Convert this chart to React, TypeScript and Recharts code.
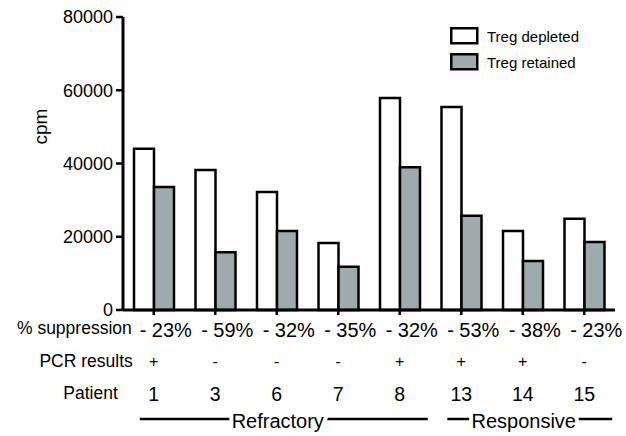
import { BarChart, Bar, XAxis, YAxis, Legend } from "recharts";

const patients = ["1", "3", "6", "7", "8", "13", "14", "15"];
const tregDepleted = [44000, 38200, 32200, 18300, 57900, 55400, 21600, 24900];
const tregRetained = [33600, 15800, 21600, 11800, 39000, 25700, 13400, 18600];
const suppression = ["- 23%", "- 59%", "- 32%", "- 35%", "- 32%", "- 53%", "- 38%", "- 23%"];
const pcrResults = ["+", "-", "-", "-", "+", "+", "+", "-"];
const yTicks = [0, 20000, 40000, 60000, 80000];
const responseGroups = [
  { label: "Refractory", from: 0, to: 4 },
  { label: "Responsive", from: 5, to: 7 },
];

const data = patients.map((p, i) => ({
  patient: p,
  depleted: tregDepleted[i],
  retained: tregRetained[i],
}));

const FONT = "'Liberation Sans', Arial, Helvetica, sans-serif";
const GRAY = "#9eaaae";
const W = 626;
const H = 436;
const MARGIN = { top: 17, right: 11, bottom: 6, left: 0 };
const Y_AXIS_W = 123;
const STEP = (W - MARGIN.left - MARGIN.right - Y_AXIS_W) / patients.length;

function PatientTick(props: any) {
  const { x, y, index } = props;
  const axisY = y - 5;
  const group = responseGroups.find((g) => g.from === index);
  return (
    <g fontFamily={FONT} fill="#000">
      {index === 0 && (
        <g>
          <text x={x - 22} y={axisY + 24} textAnchor="end" fontSize={17.5}>
            % suppression
          </text>
          <text x={x - 21} y={axisY + 57} textAnchor="end" fontSize={17.5}>
            PCR results
          </text>
          <text x={x - 36} y={axisY + 89} textAnchor="end" fontSize={17.5}>
            Patient
          </text>
        </g>
      )}
      <text x={x + 12} y={axisY + 27} textAnchor="middle" fontSize={20}>
        {suppression[index]}
      </text>
      <text x={x} y={axisY + 57} textAnchor="middle" fontSize={16}>
        {pcrResults[index]}
      </text>
      <text x={x} y={axisY + 91} textAnchor="middle" fontSize={19.5}>
        {patients[index]}
      </text>
      {group && (
        <g>
          <line
            x1={x - 14}
            x2={x + (group.to - group.from) * STEP + 28}
            y1={axisY + 109}
            y2={axisY + 109}
            stroke="#000"
            strokeWidth={2.5}
          />
          <text
            x={x + ((group.to - group.from) * STEP + 14) / 2 - 6}
            y={axisY + 118}
            textAnchor="middle"
            fontSize={20}
            stroke="#fff"
            strokeWidth={8}
            paintOrder="stroke"
          >
            {group.label}
          </text>
        </g>
      )}
    </g>
  );
}

function LegendBox(props: any) {
  const { payload } = props;
  return (
    <div style={{ fontFamily: FONT, fontSize: 15, color: "#000" }}>
      {(payload || []).map((entry: any, i: number) => (
        <div key={i} style={{ display: "flex", alignItems: "center", height: 26 }}>
          <svg width={29} height={18} style={{ marginRight: 8 }}>
            <rect
              x={1.25}
              y={1.25}
              width={26}
              height={15}
              fill={entry.color}
              stroke="#000"
              strokeWidth={2.5}
            />
          </svg>
          <span>{entry.value}</span>
        </div>
      ))}
    </div>
  );
}

function CpmLabel(props: any) {
  const { viewBox } = props;
  const cx = viewBox.x + 40;
  const cy = viewBox.y + viewBox.height / 2 - 37;
  return (
    <text
      x={cx}
      y={cy}
      transform={`rotate(-90 ${cx} ${cy})`}
      textAnchor="middle"
      dominantBaseline="central"
      fontFamily={FONT}
      fontSize={19}
      fill="#000"
    >
      cpm
    </text>
  );
}

export default function App() {
  return (
    <div style={{ position: "absolute", left: 0, top: 0, width: W, height: H, background: "#fff" }}>
      <BarChart width={W} height={H} data={data} margin={MARGIN} barGap={0} barSize={20}>
        <XAxis
          dataKey="patient"
          height={120}
          interval={0}
          axisLine={{ stroke: "#000", strokeWidth: 3 }}
          tickLine={{ stroke: "#000", strokeWidth: 2.5 }}
          tickSize={5}
          tickMargin={0}
          tick={<PatientTick />}
        />
        <YAxis
          width={Y_AXIS_W}
          domain={[0, 80000]}
          ticks={yTicks}
          interval={0}
          axisLine={{ stroke: "#000", strokeWidth: 3 }}
          tickLine={{ stroke: "#000", strokeWidth: 2.5 }}
          tickSize={7}
          tickMargin={3}
          tick={{ fill: "#000", fontSize: 18, fontFamily: FONT }}
          label={<CpmLabel />}
        />
        <Legend
          layout="vertical"
          align="center"
          verticalAlign="middle"
          content={<LegendBox />}
          wrapperStyle={{ position: "absolute", left: 450, top: 23, width: 170 }}
        />
        <Bar
          dataKey="depleted"
          name="Treg depleted"
          fill="#fff"
          stroke="#000"
          strokeWidth={2.5}
          isAnimationActive={false}
        />
        <Bar
          dataKey="retained"
          name="Treg retained"
          fill={GRAY}
          stroke="#000"
          strokeWidth={2.5}
          isAnimationActive={false}
        />
      </BarChart>
    </div>
  );
}
